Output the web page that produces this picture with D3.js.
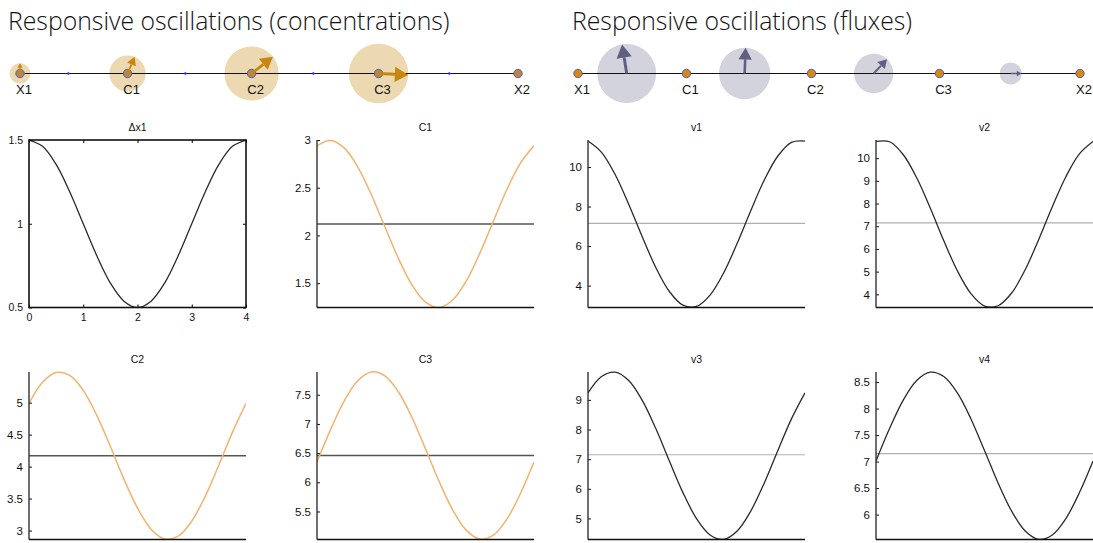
<!DOCTYPE html>
<html>
<head>
<meta charset="utf-8">
<script src="https://cdn.jsdelivr.net/npm/d3@7"></script>
<style>
  body { margin: 0; background: #fff; }
  svg { display: block; }
</style>
</head>
<body>
<svg id="chart" width="1093" height="543"></svg>
<script>
// ---- data ---------------------------------------------------------------
const time = [0, 0.25, 0.5, 0.75, 1, 1.25, 1.5, 1.75, 2, 2.25, 2.5, 2.75, 3, 3.25, 3.5, 3.75, 4];

const dx1 = [1.5, 1.462, 1.354, 1.191, 1.0, 0.809, 0.646, 0.538, 0.5, 0.538, 0.646, 0.809, 1.0, 1.191, 1.354, 1.462, 1.5];
const c1 = [2.939, 2.995, 2.917, 2.719, 2.429, 2.093, 1.760, 1.482, 1.301, 1.245, 1.323, 1.521, 1.811, 2.147, 2.481, 2.758, 2.939];
const c2 = [4.989, 5.318, 5.472, 5.428, 5.193, 4.801, 4.314, 3.805, 3.351, 3.022, 2.868, 2.912, 3.147, 3.539, 4.026, 4.535, 4.989];
const c3 = [6.347, 6.903, 7.392, 7.739, 7.891, 7.825, 7.551, 7.111, 6.573, 6.017, 5.528, 5.181, 5.029, 5.095, 5.369, 5.809, 6.347];
const v1 = [11.318, 10.745, 9.622, 8.120, 6.467, 4.915, 3.700, 3.007, 2.942, 3.515, 4.638, 6.140, 7.793, 9.345, 10.560, 11.253, 11.318];
const v2 = [10.735, 10.723, 10.162, 9.136, 7.802, 6.362, 5.036, 4.030, 3.485, 3.497, 4.058, 5.084, 6.418, 7.858, 9.184, 10.190, 10.735];
const v3 = [9.234, 9.788, 9.934, 9.652, 8.983, 8.031, 6.938, 5.872, 4.996, 4.442, 4.296, 4.578, 5.247, 6.199, 7.292, 8.358, 9.234];
const v4 = [7.011, 7.623, 8.155, 8.529, 8.687, 8.605, 8.295, 7.805, 7.209, 6.597, 6.065, 5.691, 5.533, 5.615, 5.925, 6.415, 7.011];

// steady-state levels
const concSteady = { c1: 2.12, c2: 4.17, c3: 6.46 };
const fluxSteady = 7.15;

// axis ranges and ticks
const yDomains = {
  dx1: [0.5, 1.5], c1: [1.245, 3.0], v1: [2.89, 11.37], v2: [3.42, 10.8],
  c2: [2.86, 5.48], c3: [5.02, 7.89], v3: [4.29, 9.94], v4: [5.53, 8.69]
};
const yTicks = {
  dx1: [0.5, 1, 1.5], c1: [1.5, 2, 2.5, 3], v1: [4, 6, 8, 10], v2: [4, 5, 6, 7, 8, 9, 10],
  c2: [3, 3.5, 4, 4.5, 5], c3: [5.5, 6, 6.5, 7, 7.5], v3: [5, 6, 7, 8, 9], v4: [6, 6.5, 7, 7.5, 8, 8.5]
};
const xTicks = [0, 1, 2, 3, 4];

// network: metabolites and reactions
const metabolites = ["X1", "C1", "C2", "C3", "X2"];
const reactions = ["v1", "v2", "v3", "v4"];
const concAmplitude = [0.5, 0.875, 1.31, 1.435];   // X1, C1, C2, C3
const concPhaseDeg = [90, 67, 38, -3];
const fluxAmplitude = [4.24, 3.69, 2.825, 1.58];  // v1..v4
const fluxPhaseDeg = [99, 88, 47, 0];

// ---- drawing ------------------------------------------------------------
const svg = d3.select("#chart");
const FONT = "'Liberation Sans', Arial, sans-serif";

// headings
svg.append("text").attr("x", 8).attr("y", 30)
  .attr("font-family", "'Open Sans', sans-serif").attr("font-weight", 300)
  .attr("font-size", 24.8).attr("fill", "#111")
  .text("Responsive oscillations (concentrations)");
svg.append("text").attr("x", 572).attr("y", 30)
  .attr("font-family", "'Open Sans', sans-serif").attr("font-weight", 300)
  .attr("font-size", 24.8).attr("fill", "#111")
  .text("Responsive oscillations (fluxes)");

// network layout (fraction of the chain length)
const nodeFrac = [0, 0.216, 0.465, 0.72, 1];
const rxnFrac = [0.097, 0.332, 0.589, 0.862];

function arrow(g, cx, cy, len, deg, color) {
  const a = deg * Math.PI / 180;
  const ux = Math.cos(a), uy = -Math.sin(a);
  const px = -uy, py = ux;
  const head = 0.45 * len, half = 0.26 * len;
  const bx = cx + ux * (len - head), by = cy + uy * (len - head);
  const tx = cx + ux * len, ty = cy + uy * len;
  g.append("line").attr("x1", cx).attr("y1", cy).attr("x2", bx).attr("y2", by)
    .attr("stroke", color).attr("stroke-width", Math.max(1.5, len * 0.1));
  g.append("path")
    .attr("d", `M${tx},${ty}L${bx + px * half},${by + py * half}L${bx - px * half},${by - py * half}Z`)
    .attr("fill", color);
}

function network(x0, x1, cy, mode) {
  const g = svg.append("g");
  const sx = d3.scaleLinear().domain([0, 1]).range([x0, x1]);
  const isConc = mode === "conc";
  const rScale = d3.scaleLinear().domain([0, 1]).range([0, isConc ? 20.7 : 6.95]);
  const centers = isConc ? nodeFrac.slice(0, 4) : rxnFrac;
  const amps = isConc ? concAmplitude : fluxAmplitude;
  const phases = isConc ? concPhaseDeg : fluxPhaseDeg;

  g.selectAll("circle.amp").data(amps).join("circle").attr("class", "amp")
    .attr("cx", (d, i) => sx(centers[i])).attr("cy", cy).attr("r", d => rScale(d))
    .attr("fill", isConc ? "#ecd8b1" : "#d3d3de");

  g.append("line").attr("x1", sx(0)).attr("x2", sx(1)).attr("y1", cy).attr("y2", cy)
    .attr("stroke", "#111").attr("stroke-width", 1.2);

  if (isConc) {
    g.selectAll("circle.rx").data(reactions).join("circle").attr("class", "rx")
      .attr("cx", (d, i) => sx(rxnFrac[i])).attr("cy", cy).attr("r", 1.3)
      .attr("fill", "#2b2bff");
  }

  g.selectAll("circle.node").data(metabolites).join("circle").attr("class", "node")
    .attr("cx", (d, i) => sx(nodeFrac[i])).attr("cy", cy).attr("r", 4.2)
    .attr("fill", isConc ? "#b8893c" : "#d38a10")
    .attr("stroke", "#5b5bb5").attr("stroke-width", 1);

  amps.forEach((d, i) => arrow(g, sx(centers[i]), cy, rScale(d), phases[i],
    isConc ? "#c6860f" : "#5f5f80"));

  g.selectAll("text.lbl").data(metabolites).join("text").attr("class", "lbl")
    .attr("x", (d, i) => sx(nodeFrac[i]) + 4).attr("y", 94)
    .attr("text-anchor", "middle").attr("font-family", FONT).attr("font-size", 13)
    .attr("fill", "#111").text(d => d);
}
network(20, 518, 73.5, "conc");
network(578, 1080, 73.5, "flux");

// small multiples
const colX = [29, 317, 588, 876];
const rowY = [140, 372];
const plotW = 217, plotH = 167.5;

const panels = [
  { key: "dx1", title: "\u0394x1", values: dx1, col: 0, row: 0, type: "input" },
  { key: "c1", title: "C1", values: c1, col: 1, row: 0, type: "conc", ref: concSteady.c1 },
  { key: "v1", title: "v1", values: v1, col: 2, row: 0, type: "flux", ref: fluxSteady },
  { key: "v2", title: "v2", values: v2, col: 3, row: 0, type: "flux", ref: fluxSteady },
  { key: "c2", title: "C2", values: c2, col: 0, row: 1, type: "conc", ref: concSteady.c2 },
  { key: "c3", title: "C3", values: c3, col: 1, row: 1, type: "conc", ref: concSteady.c3 },
  { key: "v3", title: "v3", values: v3, col: 2, row: 1, type: "flux", ref: fluxSteady },
  { key: "v4", title: "v4", values: v4, col: 3, row: 1, type: "flux", ref: fluxSteady }
];

panels.forEach(p => {
  const left = colX[p.col], top = rowY[p.row];
  const g = svg.append("g").attr("transform", `translate(${left},${top})`);
  const x = d3.scaleLinear().domain([0, 4]).range([0, plotW]);
  const y = d3.scaleLinear().domain(yDomains[p.key]).range([plotH, 0]);

  const clipId = "clip-" + p.key;
  g.append("clipPath").attr("id", clipId).append("rect")
    .attr("x", 0).attr("y", -1).attr("width", plotW).attr("height", plotH + 2);

  // title
  g.append("text").attr("x", plotW / 2).attr("y", -9).attr("text-anchor", "middle")
    .attr("font-family", FONT).attr("font-size", 10.5).attr("fill", "#111").text(p.title);

  // steady-state reference line
  if (p.ref !== undefined) {
    g.append("line").attr("x1", 0).attr("x2", plotW).attr("y1", y(p.ref)).attr("y2", y(p.ref))
      .attr("stroke", p.type === "conc" ? "#555" : "#b0b0b0")
      .attr("stroke-width", p.type === "conc" ? 1.6 : 1.1);
  }

  // time course
  const line = d3.line().x((d, i) => x(time[i])).y(d => y(d)).curve(d3.curveCatmullRom.alpha(0.5));
  g.append("path").datum(p.values).attr("clip-path", `url(#${clipId})`)
    .attr("d", line).attr("fill", "none")
    .attr("stroke", p.type === "conc" ? "#f2b36c" : "#2a2a2a")
    .attr("stroke-width", p.type === "conc" ? 1.5 : 1.3);

  // y axis with inward ticks
  const yAxis = d3.axisLeft(y).tickValues(yTicks[p.key]).tickSize(-3).tickPadding(6).tickFormat(d3.format("~g"));
  const ya = g.append("g").call(yAxis);
  ya.select(".domain").remove();
  ya.selectAll("text").attr("font-family", FONT).attr("font-size", p.type === "input" ? 10.5 : 11.5).attr("fill", "#111");
  ya.selectAll("line").attr("stroke", "#111");

  if (p.type === "input") {
    const xa = g.append("g").attr("transform", `translate(0,${plotH})`)
      .call(d3.axisBottom(x).tickValues(xTicks).tickSize(-3).tickPadding(6).tickFormat(d3.format("~g")));
    xa.select(".domain").remove();
    xa.selectAll("text").attr("font-family", FONT).attr("font-size", 10.5).attr("fill", "#111");
    // mirrored ticks on top and right
    g.append("g").call(d3.axisTop(x).tickValues(xTicks).tickSize(-3).tickFormat(""))
      .select(".domain").remove();
    g.append("g").attr("transform", `translate(${plotW},0)`)
      .call(d3.axisRight(y).tickValues(yTicks[p.key]).tickSize(-3).tickFormat(""))
      .select(".domain").remove();
    g.append("rect").attr("x", 0).attr("y", 0).attr("width", plotW).attr("height", plotH)
      .attr("fill", "none").attr("stroke", "#111").attr("stroke-width", 1.6);
  } else {
    g.append("line").attr("x1", 0).attr("x2", 0).attr("y1", 0).attr("y2", plotH)
      .attr("stroke", "#333").attr("stroke-width", 1.4);
    g.append("line").attr("x1", 0).attr("x2", plotW).attr("y1", plotH).attr("y2", plotH)
      .attr("stroke", "#111").attr("stroke-width", 1.6);
  }
});
</script>
</body>
</html>
